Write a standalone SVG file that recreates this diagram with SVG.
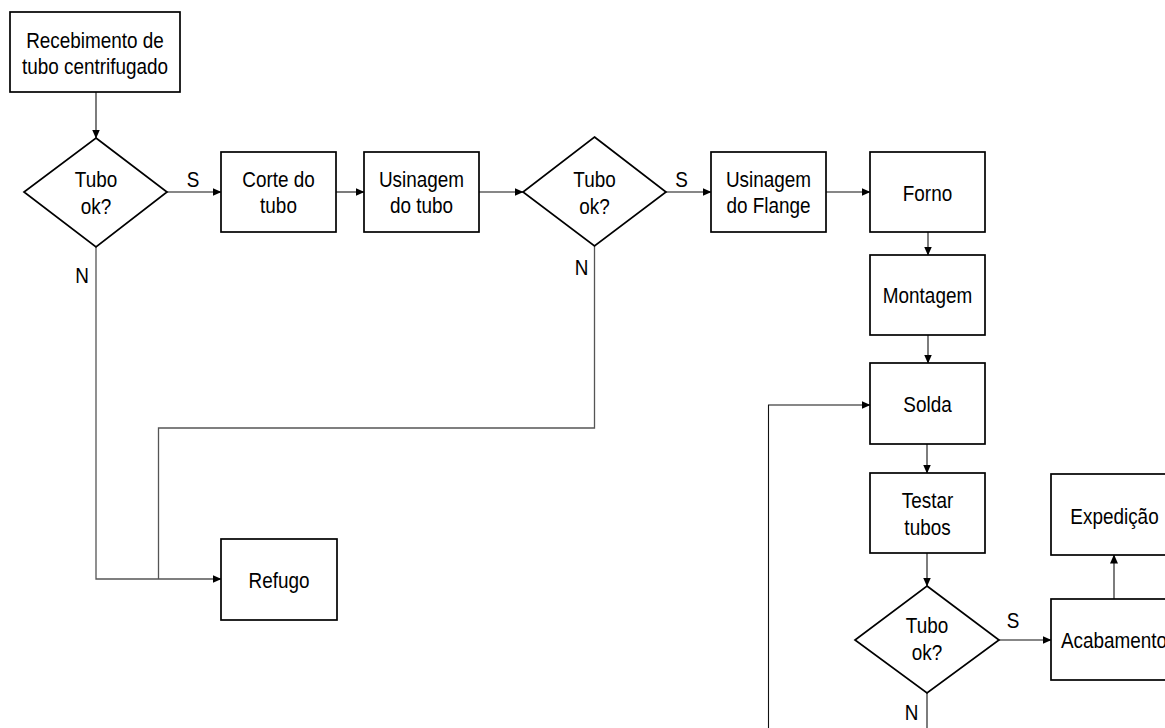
<svg xmlns="http://www.w3.org/2000/svg" width="1165" height="728" viewBox="0 0 1165 728">
  <style>
    .box { fill: #fff; stroke: #000; stroke-width: 1.7; }
    .lbl { font-family: "Liberation Sans", Arial, sans-serif; font-size: 22px; fill: #000; text-anchor: middle; }
    .wire { fill: none; stroke: #111; stroke-width: 1.1; }
    .gray { fill: none; stroke: #555; stroke-width: 1.3; }
  </style>
  <defs>
    <marker id="arr" markerWidth="9" markerHeight="8" refX="8.5" refY="4" orient="auto" markerUnits="userSpaceOnUse">
      <path d="M0,0 L9,4 L0,8 Z" fill="#000"/>
    </marker>
  </defs>
  <rect width="1165" height="728" fill="#fff"/>

  <!-- connectors -->
  <g id="connectors">
    <line class="wire" x1="96" y1="92" x2="96" y2="138" marker-end="url(#arr)"/>
    <line class="wire" x1="167" y1="192" x2="221" y2="192" marker-end="url(#arr)"/>
    <line class="wire" x1="336" y1="192" x2="364" y2="192" marker-end="url(#arr)"/>
    <line class="wire" x1="479" y1="192" x2="523" y2="192" marker-end="url(#arr)"/>
    <line class="wire" x1="666" y1="192" x2="711" y2="192" marker-end="url(#arr)"/>
    <line class="wire" x1="826" y1="192" x2="870" y2="192" marker-end="url(#arr)"/>
    <line class="wire" x1="928" y1="232" x2="928" y2="255" marker-end="url(#arr)"/>
    <line class="wire" x1="928" y1="335" x2="928" y2="363" marker-end="url(#arr)"/>
    <line class="wire" x1="927" y1="444" x2="927" y2="473" marker-end="url(#arr)"/>
    <line class="wire" x1="927" y1="553" x2="927" y2="586" marker-end="url(#arr)"/>
    <line class="wire" x1="999" y1="640" x2="1051" y2="640" marker-end="url(#arr)"/>
    <line class="wire" x1="1114" y1="599" x2="1114" y2="555" marker-end="url(#arr)"/>
    <line class="wire" x1="927" y1="693" x2="927" y2="728"/>
    <polyline class="wire" points="768.5,728 768.5,405 870,405" marker-end="url(#arr)"/>
    <polyline class="gray" points="96,247 96,579 221,579" marker-end="url(#arr)"/>
    <polyline class="gray" points="594.5,246 594.5,428 158.5,428 158.5,579"/>
  </g>

  <!-- branch labels -->
  <g id="branch-labels">
    <text class="lbl" transform="translate(193 187) scale(0.86 1)">S</text>
    <text class="lbl" transform="translate(82 283) scale(0.86 1)">N</text>
    <text class="lbl" transform="translate(681.5 187) scale(0.86 1)">S</text>
    <text class="lbl" transform="translate(581.5 275) scale(0.86 1)">N</text>
    <text class="lbl" transform="translate(1013 628) scale(0.86 1)">S</text>
    <text class="lbl" transform="translate(911.5 720) scale(0.86 1)">N</text>
  </g>

  <g id="recebimento">
    <rect class="box" x="10" y="12" width="170" height="80"/>
    <text class="lbl" transform="translate(95 47.5) scale(0.86 1)">Recebimento de</text>
    <text class="lbl" transform="translate(95 73.5) scale(0.86 1)">tubo centrifugado</text>
  </g>

  <g id="decisao-1">
    <polygon class="box" points="96,138 167,192 96,247 24,192"/>
    <text class="lbl" transform="translate(96 187) scale(0.86 1)">Tubo</text>
    <text class="lbl" transform="translate(96 214) scale(0.86 1)">ok?</text>
  </g>

  <g id="corte">
    <rect class="box" x="221" y="152" width="115" height="80"/>
    <text class="lbl" transform="translate(278.5 187) scale(0.86 1)">Corte do</text>
    <text class="lbl" transform="translate(278.5 213) scale(0.86 1)">tubo</text>
  </g>

  <g id="usinagem-tubo">
    <rect class="box" x="364" y="152" width="115" height="80"/>
    <text class="lbl" transform="translate(421.5 187) scale(0.86 1)">Usinagem</text>
    <text class="lbl" transform="translate(421.5 213) scale(0.86 1)">do tubo</text>
  </g>

  <g id="decisao-2">
    <polygon class="box" points="594.5,137 666,192 594.5,246 523,192"/>
    <text class="lbl" transform="translate(594.5 187) scale(0.86 1)">Tubo</text>
    <text class="lbl" transform="translate(594.5 214) scale(0.86 1)">ok?</text>
  </g>

  <g id="usinagem-flange">
    <rect class="box" x="711" y="152" width="115" height="80"/>
    <text class="lbl" transform="translate(768.5 187) scale(0.86 1)">Usinagem</text>
    <text class="lbl" transform="translate(768.5 213) scale(0.86 1)">do Flange</text>
  </g>

  <g id="forno">
    <rect class="box" x="870" y="152" width="115" height="80"/>
    <text class="lbl" transform="translate(927.5 201) scale(0.86 1)">Forno</text>
  </g>

  <g id="montagem">
    <rect class="box" x="870" y="255" width="115" height="80"/>
    <text class="lbl" transform="translate(927.5 303) scale(0.86 1)">Montagem</text>
  </g>

  <g id="solda">
    <rect class="box" x="870" y="363" width="115" height="81"/>
    <text class="lbl" transform="translate(927.5 412) scale(0.86 1)">Solda</text>
  </g>

  <g id="testar">
    <rect class="box" x="870" y="473" width="115" height="80"/>
    <text class="lbl" transform="translate(927.5 508) scale(0.86 1)">Testar</text>
    <text class="lbl" transform="translate(927.5 535) scale(0.86 1)">tubos</text>
  </g>

  <g id="decisao-3">
    <polygon class="box" points="927,586 999,640 927,693 855,640"/>
    <text class="lbl" transform="translate(927 633) scale(0.86 1)">Tubo</text>
    <text class="lbl" transform="translate(927 660) scale(0.86 1)">ok?</text>
  </g>

  <g id="acabamento">
    <rect class="box" x="1051" y="599" width="126" height="81"/>
    <text class="lbl" transform="translate(1114 648) scale(0.86 1)">Acabamento</text>
  </g>

  <g id="expedicao">
    <rect class="box" x="1051" y="474" width="126" height="81"/>
    <text class="lbl" transform="translate(1114.5 523.5) scale(0.86 1)">Expedição</text>
  </g>

  <g id="refugo">
    <rect class="box" x="221" y="539" width="116" height="81"/>
    <text class="lbl" transform="translate(279 588) scale(0.86 1)">Refugo</text>
  </g>
</svg>
